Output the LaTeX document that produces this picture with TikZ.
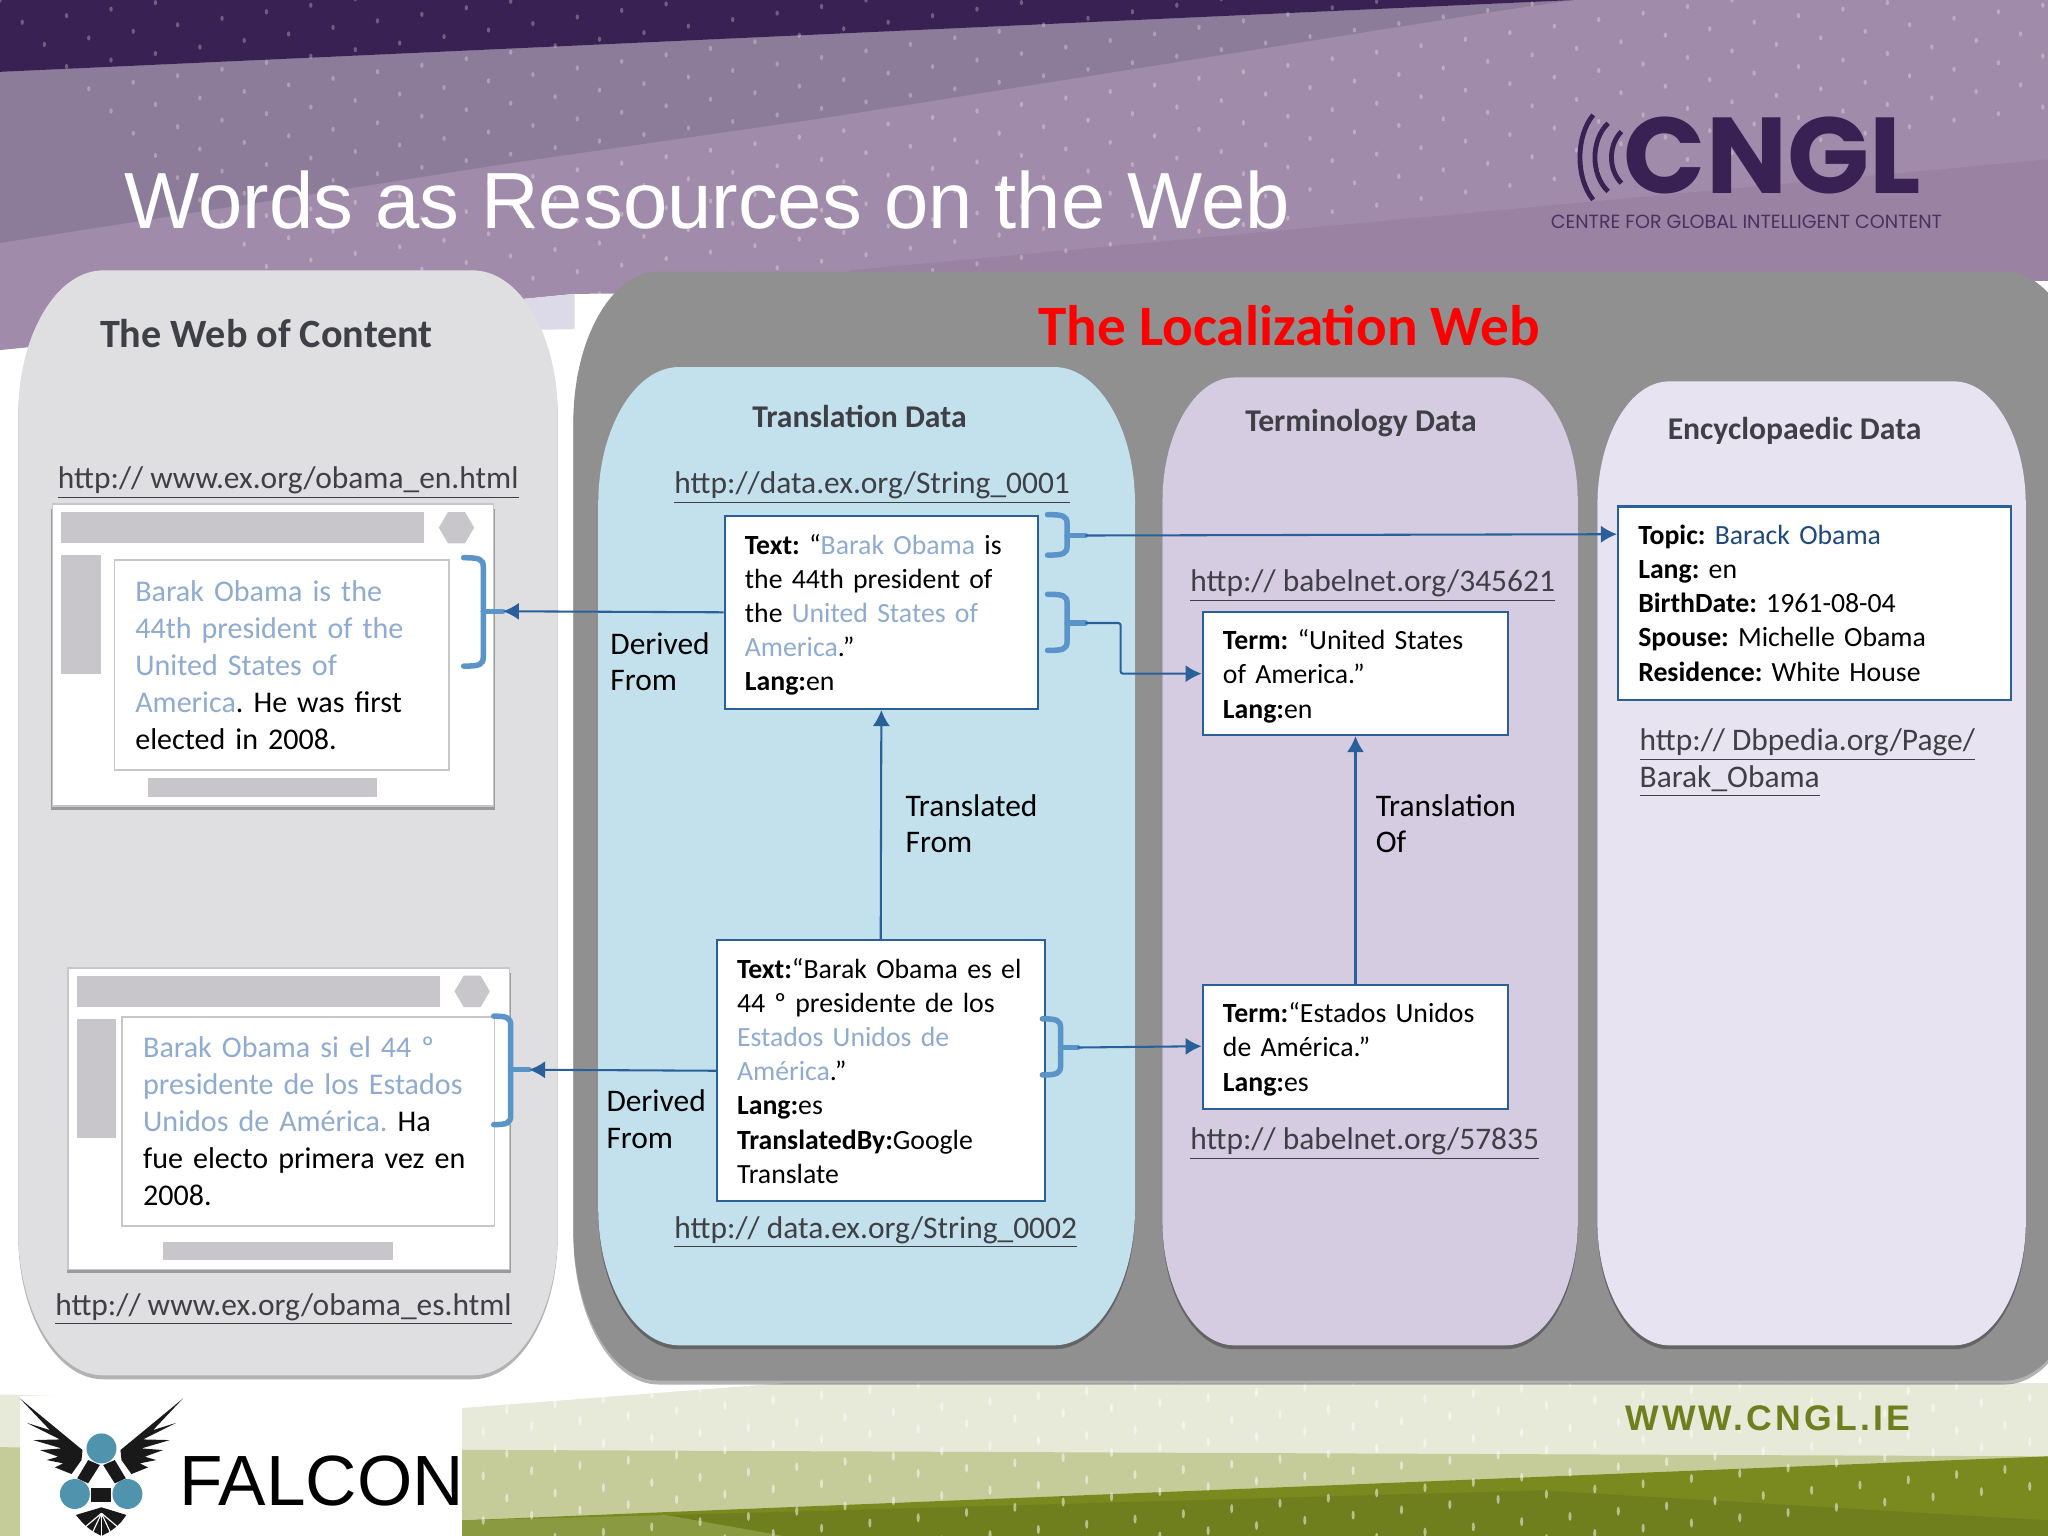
\documentclass[tikz,border=0pt]{standalone}
\usepackage{fontspec}
\usepackage{xcolor}
\usetikzlibrary{arrows.meta}
\setmainfont{Carlito}
\newfontfamily\arialfont{Liberation Sans}
\newfontfamily\logofont{Poppins}
\newfontfamily\wwwfont[LetterSpace=9]{Liberation Sans}
\frenchspacing
\definecolor{purplebase}{HTML}{A08CAA}
\definecolor{purplemid}{HTML}{8C7B99}
\definecolor{purplelow}{HTML}{9A82A2}
\definecolor{purpledark}{HTML}{3A2153}
\definecolor{lavender}{HTML}{DCD9E8}
\definecolor{greenlight}{HTML}{E8EAD9}
\definecolor{greenmid}{HTML}{C5CC9A}
\definecolor{greendark}{HTML}{7A8A1F}
\definecolor{greendeep}{HTML}{6F7F1E}
\definecolor{greensoft}{HTML}{8A9A40}
\definecolor{webgray}{HTML}{DFDEE1}
\definecolor{locgray}{HTML}{919091}
\definecolor{transblue}{HTML}{C3E1EC}
\definecolor{termlilac}{HTML}{D5CCE2}
\definecolor{encylilac}{HTML}{E7E3F1}
\definecolor{barsgray}{HTML}{C8C6CA}
\definecolor{boxblue}{HTML}{2A6099}
\definecolor{bracelblue}{HTML}{5B94C8}
\definecolor{linkblue}{HTML}{8FABD0}
\definecolor{topicblue}{HTML}{1F497D}
\definecolor{urlgray}{HTML}{3F3F46}
\definecolor{falconblue}{HTML}{4F93AD}
\newcommand\lnk[1]{\textcolor{linkblue}{#1}}
\newcommand\panelpath[6]{({#1+#5},#2) -- ({#3-#5},#2) .. controls ({#3-.45*#5},#2) and (#3,{#2+.45*#6}) .. (#3,{#2+#6}) -- (#3,{#4-#6}) .. controls (#3,{#4-.45*#6}) and ({#3-.45*#5},#4) .. ({#3-#5},#4) -- ({#1+#5},#4) .. controls ({#1+.45*#5},#4) and (#1,{#4-.45*#6}) .. (#1,{#4-#6}) -- (#1,{#2+#6}) .. controls (#1,{#2+.45*#6}) and ({#1+.45*#5},#2) .. ({#1+#5},#2) -- cycle}
\newcommand\panel[7]{\fill[black,opacity=.3,shift={(0,3)}] \panelpath{#2}{#3}{#4}{#5}{#6}{#7}; \fill[#1] \panelpath{#2}{#3}{#4}{#5}{#6}{#7};}
\newcommand\linkbrace[6]{\draw[bracestyle] (#1,#4) .. controls ({#2-3},#4) and (#2,{#4+1}) .. (#2,{#4+7}) -- (#2,{#6-7}) .. controls (#2,{#6-1}) and ({#2-3},#6) .. (#1,#6); \draw[bracestyle] (#2,#5) -- (#3,#5);}
\newcommand\pagechrome{
        \fill[black,opacity=.3] (-1,4) rectangle (339,234);
        \fill[white] (0,0) rectangle (338,231);
        \draw[barsgray,line width=.6pt] (0,0) rectangle (338,231);
        \fill[barsgray] (7,6) rectangle (285,30);
        \fill[barsgray] (296,18) -- (303,6) -- (316,6) -- (323,18) -- (316,30) -- (303,30) -- cycle;
        \fill[barsgray] (7,39) rectangle (37,130);
        \fill[barsgray] (73,210) rectangle (249,224);
}
\tikzset{
    bodytext/.style={font=\fontsize{12.1}{14.9}\selectfont,align=left},
    databox/.style={draw=boxblue,fill=white,line width=.9pt,anchor=north west,bodytext,inner sep=0pt},
    lowered/.style={execute at end node={\vspace{-2.3pt}}},
    pagebox/.style={draw=barsgray,fill=white,line width=.7pt,anchor=north west,inner sep=0pt,align=left,font=\fontsize{13.1}{16.1}\selectfont},
    urltext/.style={anchor=base west,inner sep=0pt,align=left,text=urlgray,font=\fontsize{13.7}{16.1}\selectfont},
    edgetext/.style={anchor=base west,inner sep=0pt,align=left,font=\fontsize{13.7}{16}\selectfont},
    headtext/.style={text=urlgray,inner sep=0pt,font=\fontsize{13.8}{16}\selectfont\bfseries},
    bracestyle/.style={bracelblue,line width=2.4pt,line join=round,line cap=round},
    linkarrow/.style={boxblue,line width=.9pt,-{Latex[length=7pt,width=7.5pt]}},
    wave/.style={purpledark,line width=2.1pt},
    dots/.style={white,opacity=.28},
    lowdots/.style={white,opacity=.5}
}
\begin{document}
\begin{tikzpicture}[x=0.02cm,y=-0.02cm]
        \useasboundingbox (0,0) rectangle (1568,1176);
        \fill[white] (0,0) rectangle (1568,1176);
        \fill[purplebase] (0,0) -- (1568,0) -- (1568,215) -- (440,225) -- (0,268) -- cycle;
        \fill[lavender] (100,258) -- (440,225) -- (440,252) -- cycle;
        \fill[purplelow] (650,207) -- (1568,122) -- (1568,215) -- (650,215) -- cycle;
        \fill[purplemid] (0,55) -- (1205,0) -- (1150,8) -- (640,89) -- (390,125) -- (0,186) -- cycle;
        \fill[purpledark] (0,0) -- (1205,0) -- (0,55) -- cycle;
        \fill[greenlight] (0,1068) -- (15,1068) -- (354,1078) -- (600,1059) -- (1568,1059) -- (1568,1176) -- (0,1176) -- cycle;
        \fill[greenmid] (0,1108) -- (354,1110) -- (1568,1115) -- (1568,1176) -- (0,1176) -- cycle;
        \fill[greendark] (354,1164) -- (1568,1115) -- (1568,1176) -- (354,1176) -- cycle;
        \fill[greendeep] (510,1160) -- (1180,1141) -- (1568,1164) -- (1568,1176) -- (600,1176) -- cycle;
        \fill[greensoft] (354,1164) -- (510,1160) -- (600,1176) -- (354,1176) -- cycle;
        \begin{scope}
            \clip (0,0) -- (1568,0) -- (1568,215) -- (440,225) -- (0,268) -- cycle;
            \foreach \i in {0,...,46} \foreach \j in {-2,...,16}
                \fill[dots] ({\i*34+(\j*17)},{\j*17-\i*5}) ellipse (1.3 and 2);
        \end{scope}
        \begin{scope}
            \clip (354,1078) -- (600,1059) -- (1568,1059) -- (1568,1176) -- (354,1176) -- cycle;
            \foreach \i in {9,...,42} \foreach \j in {0,...,12}
                \fill[lowdots] ({\i*37+mod(\j,2)*18},{1060+\j*17-\i*4+42}) ellipse (1.2 and 3.5);
        \end{scope}
        \node[anchor=base west,inner sep=0pt,text=white,font=\arialfont\fontsize{34.7}{40}\selectfont] (title) at (95,175) {Words as Resources on the Web};
        \begin{scope}[shift={(1179,68.9)},x=0.0051cm,y=-0.0051cm]
            \draw[wave] (160,75) .. controls (107,140) and (107,265) .. (160,330);
            \draw[wave] (205,100) .. controls (152,150) and (152,255) .. (205,305);
            \draw[wave] (245,125) .. controls (205,165) and (205,240) .. (245,280);
        \end{scope}
        \node[anchor=base west,inner sep=0pt,text=purpledark,font=\logofont\bfseries\fontsize{47}{48}\selectfont] (logo) at (1243,148) {CNGL};
        \node[anchor=base west,inner sep=0pt,text=purpledark!85!purplebase,font=\logofont\fontsize{8.3}{9}\selectfont] (logotext) at (1187,175) {CENTRE FOR GLOBAL INTELLIGENT CONTENT};
        \node[anchor=base west,inner sep=0pt,text=greendeep,font=\wwwfont\bfseries\fontsize{15.5}{17}\selectfont] (www) at (1244,1095) {WWW.CNGL.IE};
        \fill[white] (15,1069) rectangle (354,1176);
        \begin{scope}[shift={(0,1056.7)},x=0.0051cm,y=-0.0051cm]
            \foreach \m/\o in {1/0,-1/610} {
                \begin{scope}[shift={(\o,0)},xscale=\m]
                    \fill[black!90] (60,55) -- (248,210) -- (245,240) -- (215,282) -- (165,262) -- (190,250) -- (140,240) -- (175,230) -- (120,210) -- (185,205) -- (100,180) -- (180,178) -- (80,128) -- (150,150) -- cycle;
                    \fill[black!90] (265,240) -- (300,255) -- (265,310) -- (232,295) -- cycle;
                \end{scope}
            }
            \fill[black!90] (272,325) rectangle (335,365);
            \fill[black!90] (228,405) -- (305,382) -- (380,405) -- (365,425) -- (350,440) -- (330,455) -- (305,468) -- (280,455) -- (260,440) -- (245,425) -- cycle;
            \foreach \a in {-50,-25,0,25,50}
                \draw[white,line width=.5pt] (305,400) -- ++({\a-90}:-75);
            \fill[falconblue] (305,205) circle (45);
            \fill[falconblue] (225,342) circle (45);
            \fill[falconblue] (383,342) circle (45);
        \end{scope}
        \begin{scope}
            \clip (130,1100) rectangle (354,1176);
            \node[anchor=base west,inner sep=0pt,font=\arialfont\fontsize{31}{33}\selectfont] (falcon) at (137,1153) {FALCON};
        \end{scope}
        \panel{webgray}{14}{207}{427}{1053}{65}{110}
        \panel{locgray}{439}{208}{1600}{1057}{65}{115}
        \panel{transblue}{458}{281}{869}{1030}{62}{105}
        \panel{termlilac}{890}{289}{1208}{1030}{55}{95}
        \panel{encylilac}{1223}{292}{1551}{1030}{55}{95}
        \node[headtext,font=\fontsize{17.5}{20}\selectfont\bfseries] (webhead) at (204,255) {The Web of Content};
        \node[inner sep=0pt,text=red,font=\fontsize{24.9}{27}\selectfont\bfseries] (lochead) at (987,249) {The Localization Web};
        \node[headtext] (transhead) at (658,319) {Translation Data};
        \node[headtext] (termhead) at (1042,324) {Terminology Data};
        \node[headtext] (encyhead) at (1374,330) {Encyclopaedic Data};
        \begin{scope}[shift={(40,386)}]
            \pagechrome
        \end{scope}
        \begin{scope}[shift={(52,741)}]
            \pagechrome
        \end{scope}
        \node[pagebox,minimum width=256*0.02cm,minimum height=161*0.02cm,text width=224*0.02cm] (page1) at (87,428) {\lnk{Barak Obama is the}\\ \lnk{44th president of the}\\ \lnk{United States of}\\ \lnk{America}. He was first\\ elected in 2008.};
        \node[pagebox,minimum width=285*0.02cm,minimum height=160*0.02cm,text width=253*0.02cm] (page2) at (93,778) {\lnk{Barak Obama si el 44 º}\\ \lnk{presidente de los Estados}\\ \lnk{Unidos de América.} Ha\\ fue electo primera vez en\\ 2008.};
        \node[databox,lowered,minimum width=240*0.02cm,minimum height=148*0.02cm,text width=209*0.02cm] (text1) at (554,394) {\textbf{Text:} “\lnk{Barak Obama} is\\ the 44th president of\\ the \lnk{United States of}\\ \lnk{America}.”\\ \textbf{Lang:}en};
        \node[databox,minimum width=251*0.02cm,minimum height=200*0.02cm,text width=220*0.02cm] (text2) at (548,719) {\textbf{Text:}“Barak Obama es el\\ 44 º presidente de los\\ \lnk{Estados Unidos de}\\ \lnk{América}.”\\ \textbf{Lang:}es\\ \textbf{TranslatedBy:}Google\\ Translate};
        \node[databox,lowered,minimum width=234*0.02cm,minimum height=94*0.02cm,text width=203*0.02cm] (term1) at (920,468) {\textbf{Term:} “United States\\ of America.”\\ \textbf{Lang:}en};
        \node[databox,lowered,minimum width=234*0.02cm,minimum height=95*0.02cm,text width=203*0.02cm] (term2) at (920,753) {\textbf{Term:}“Estados Unidos\\ de América.”\\ \textbf{Lang:}es};
        \node[databox,minimum width=301*0.02cm,minimum height=148*0.02cm,text width=270*0.02cm] (topic) at (1238,387) {\textbf{Topic:} \textcolor{topicblue}{Barack Obama}\\ \textbf{Lang:} en\\ \textbf{BirthDate:} 1961-08-04\\ \textbf{Spouse:} Michelle Obama\\ \textbf{Residence:} White House};
        \node[urltext] (url1) at (44,374) {\underline{http:// www.ex.org/obama\_en.html}};
        \node[urltext] (url2) at (42,1007) {\underline{http:// www.ex.org/obama\_es.html}};
        \node[urltext] (url3) at (516,378) {\underline{http://data.ex.org/String\_0001}};
        \node[urltext] (url4) at (516,948) {\underline{http:// data.ex.org/String\_0002}};
        \node[urltext] (url5) at (911,453) {\underline{http:// babelnet.org/345621}};
        \node[urltext] (url6) at (911,880) {\underline{http:// babelnet.org/57835}};
        \node[urltext] (url7) at (1255,603) {\underline{http:// Dbpedia.org/Page/}\\ \underline{Barak\_Obama}};
        \node[edgetext] (derived1) at (467,529) {Derived\\ From};
        \node[edgetext] (derived2) at (464,879) {Derived\\ From};
        \node[edgetext] (translated) at (693,653) {Translated\\ From};
        \node[edgetext] (translation) at (1053,653) {Translation\\ Of};
        \linkbrace{355}{370}{385}{427}{468}{510}
        \linkbrace{378}{391}{405}{778}{819}{861}
        \linkbrace{802}{817}{831}{394}{410}{425}
        \linkbrace{802}{817}{831}{455}{477}{498}
        \linkbrace{798}{812}{825}{780}{802}{823}
        \coordinate (brace1) at (385,468);
        \coordinate (brace2) at (405,819);
        \coordinate (brace3) at (831,410);
        \coordinate (brace4) at (831,477);
        \coordinate (brace5) at (825,802);
        \coordinate (topicin) at (1238,409);
        \coordinate (termin) at (920,801);
        \draw[linkarrow] (text1.west) -- (brace1);
        \draw[linkarrow] (text2.west) -- (brace2);
        \draw[linkarrow] (text2.north) -- (text1.south);
        \draw[linkarrow] (term2.north) -- (term1.south);
        \draw[linkarrow] (brace3) -- (topicin);
        \draw[linkarrow,rounded corners=1pt] (brace4) -- (858,477) |- (term1.west);
        \draw[linkarrow] (brace5) -- (termin);
    \end{tikzpicture}
\end{document}
